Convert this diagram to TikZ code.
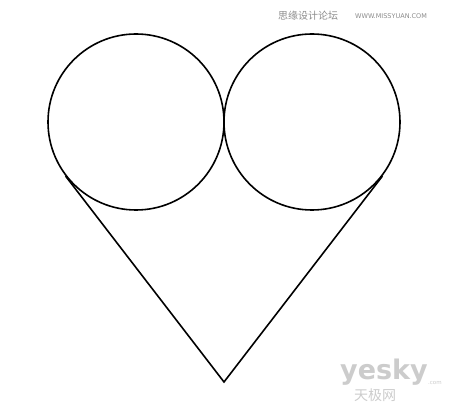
\documentclass[tikz,border=0pt]{standalone}
\usepackage{fontspec}
\newfontfamily\cjk{Noto Sans CJK SC}
\setsansfont{DejaVu Sans}
\usetikzlibrary{calc}
\begin{document}
\begin{tikzpicture}[x=1pt,y=1pt,
  ring/.style={circle,draw=black,line width=1.6pt,minimum size=176pt,inner sep=0pt},
  edge/.style={draw=black,line width=1.6pt},
  mark1/.style={text=black!45,inner sep=0pt},
  mark2/.style={text=black!20,inner sep=0pt}]
\useasboundingbox (0,0) rectangle (450,410);
\fill[white] (0,0) rectangle (450,410);
\node[ring] (c1) at (136,288) {};
\node[ring] (c2) at (312,288) {};
\coordinate (tip) at (224,28);
\draw[edge] (tangent cs:node=c1,point={(tip)},solution=2) -- (tip) -- (tangent cs:node=c2,point={(tip)},solution=1);
\node[mark1,anchor=west] (wm1) at (278,394) {\cjk\fontsize{10}{10}\selectfont 思缘设计论坛};
\node[mark1,anchor=west] (wm2) at (355,394) {\sffamily\fontsize{6.5}{7}\selectfont WWW.MISSYUAN.COM};
\node[mark2,anchor=west] (wm3) at (340,38) {\sffamily\bfseries\fontsize{27}{27}\selectfont yesky};
\node[mark2,anchor=west] (wm4) at (428,27) {\sffamily\fontsize{5.5}{6}\selectfont .com};
\node[mark2,anchor=west] (wm5) at (354,15) {\cjk\fontsize{14}{14}\selectfont 天极网};
\end{tikzpicture}
\end{document}
